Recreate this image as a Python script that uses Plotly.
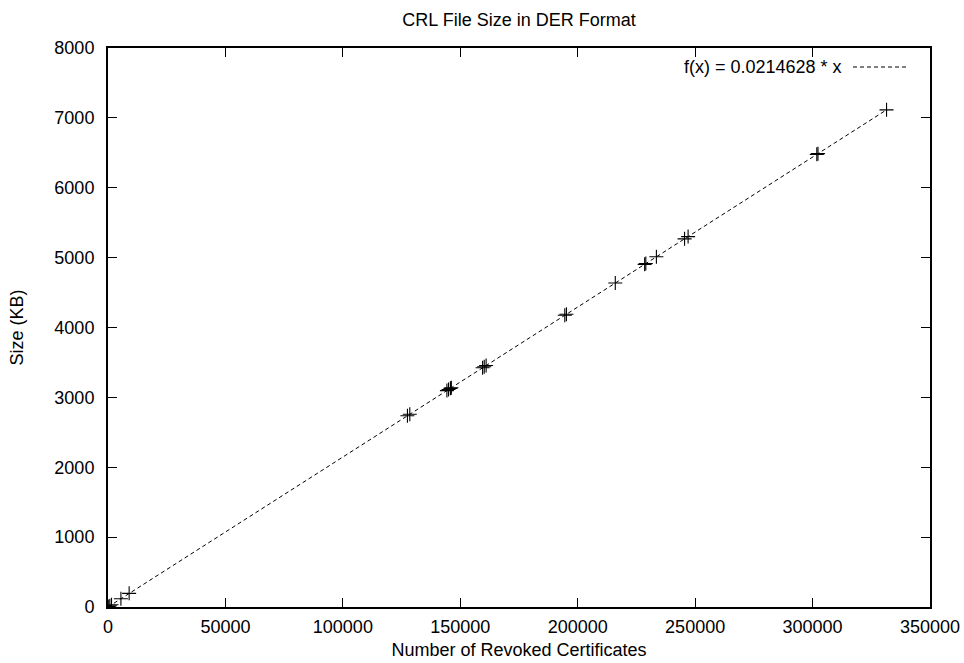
import plotly.graph_objects as go

# Data
revoked = [300, 800, 1500, 5500, 9000,
           127500, 128500,
           144300, 145000, 145800, 146200,
           159500, 160200, 161000,
           194500, 195200,
           216000,
           228500, 229000,
           233500,
           245500, 247000,
           301800, 302300,
           331500]
size_kb = [8, 18, 32, 118, 195,
           2737, 2758,
           3097, 3112, 3129, 3138,
           3423, 3438, 3456,
           4175, 4190,
           4636,
           4904, 4915,
           5012,
           5269, 5301,
           6478, 6488,
           7115]

coef = 0.0214628
fit_x = [0, max(revoked)]
fit_y = [coef * v for v in fit_x]

x_ticks = [0, 50000, 100000, 150000, 200000, 250000, 300000, 350000]
y_ticks = [0, 1000, 2000, 3000, 4000, 5000, 6000, 7000, 8000]

FONT = "Liberation Sans, Arial, sans-serif"
FS = 18

fig = go.Figure()
fig.add_trace(go.Scatter(
    x=fit_x, y=fit_y, mode="lines",
    line=dict(color="black", width=1, dash="4px,3px"),
    showlegend=False, hoverinfo="skip"))
fig.add_trace(go.Scatter(
    x=revoked, y=size_kb, mode="markers",
    marker=dict(symbol="cross-thin", size=10, line=dict(color="black", width=1.1), color="black"),
    showlegend=False))

# Legend-like key (gnuplot style: text then sample line on the right)
fig.add_annotation(x=(844 - 108) / 822, y=(607 - 67) / 559, xref="paper", yref="paper",
                   text="f(x) = 0.0214628 * x", showarrow=False,
                   xanchor="right", yanchor="middle",
                   font=dict(family=FONT, size=FS, color="black"))
fig.add_shape(type="line", xref="paper", yref="paper",
              x0=(853 - 108) / 822, x1=(907 - 108) / 822,
              y0=(607 - 67) / 559, y1=(607 - 67) / 559,
              line=dict(color="black", width=1, dash="4px,3px"))

fig.update_layout(
    width=964, height=663,
    margin=dict(l=108, r=34, t=48, b=56),
    paper_bgcolor="white", plot_bgcolor="white",
    font=dict(family=FONT, size=FS, color="black"),
    title=dict(text="CRL File Size in DER Format", x=0.5, xref="paper",
               y=1 - 20 / 663, yanchor="middle",
               font=dict(family=FONT, size=FS, color="black")),
    xaxis=dict(range=[0, 350000], tickvals=x_ticks,
               ticktext=[str(v) for v in x_ticks],
               ticks="inside", ticklen=9, tickcolor="black", tickwidth=1,
               ticklabelstandoff=2, automargin=False,
               showline=True, linecolor="black", linewidth=2, mirror="allticks",
               showgrid=False, zeroline=False,
               title=dict(text="Number of Revoked Certificates", standoff=8,
                          font=dict(family=FONT, size=FS))),
    yaxis=dict(range=[0, 8000], tickvals=y_ticks,
               ticktext=[str(v) for v in y_ticks],
               ticks="inside", ticklen=9, tickcolor="black", tickwidth=1,
               ticklabelstandoff=8, automargin=False,
               showline=True,
               linecolor="black", linewidth=2, mirror="allticks",
               showgrid=False, zeroline=False,
               title=dict(text="Size (KB)", standoff=26,
                          font=dict(family=FONT, size=FS))),
)

fig.write_html("out.html")
